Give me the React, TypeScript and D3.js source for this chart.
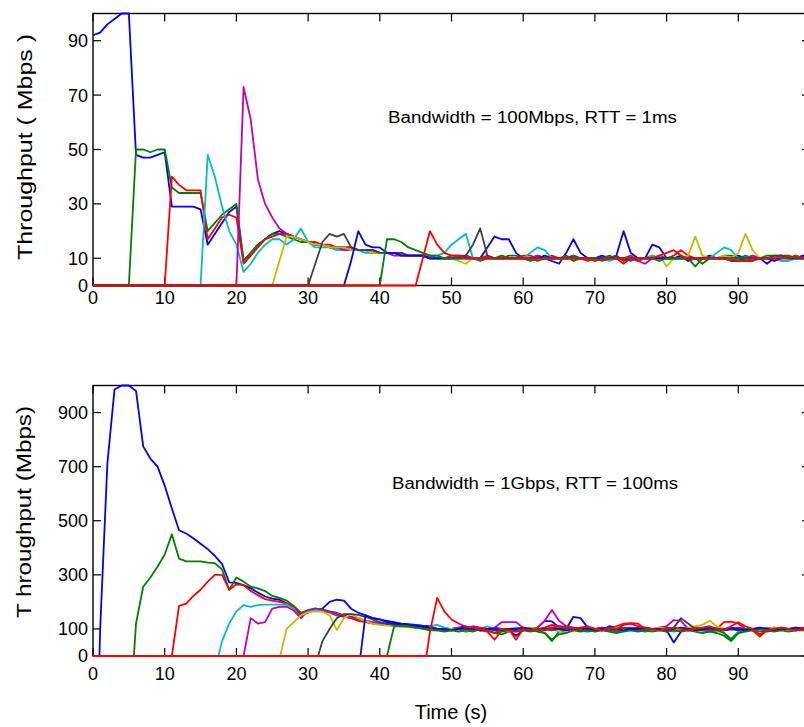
import React from "react";
import * as d3 from "d3";

// ---------- DATA ----------
const colors = ["#0000ff", "#008000", "#ff0000", "#00bfbf", "#bf00bf", "#bfbf00", "#404040", "#0000ff", "#008000", "#ff0000"];

const xTicks = [0, 10, 20, 30, 40, 50, 60, 70, 80, 90, 100];
const xTickLabels = ["0", "10", "20", "30", "40", "50", "60", "70", "80", "90"];
const topYTicks = [0, 10, 30, 50, 70, 90];
const botYTicks = [0, 100, 300, 500, 700, 900];

// flow start times (s); -1 = no idle period
const topStarts = [-1, 5, 10, 15, 20, 25, 30, 35, 40, 45];
const botStarts = [0.9, 5.7, 11, 17.5, 21, 26.1, 31.4, 37.3, 41, 46.5];

// values (Mbps) at 1 s steps from the first whole second after the start, up to 100 s
const topBlue1 = [92,93,96,98,100,100,48,47,47,48, 49,29,29,29,29,28,15,19,23,27, 29,9,12,15,17,19,20,19,18,17, 16,15,15,14,14,14,14,13,13,13, 12,12,12,11,11,11,11,10,10,10, 10,10,11,10,10,14,18,17,17,12, 10,10,11,10,9,8,12,17,12,10, 10,11,10,11,20,12,10,10,15,14, 10,10,11,9,10,10,11,10,10,10, 11,10,10,10,8,10,11,10,10,11, 10];
const topGreen1 = [50,50,49,50, 50,36,34,34,34,34,20,23,26,28, 30,9,12,15,17,19,19,18,17,16, 16,15,15,14,14,14,13,13,13,12, 12,12,12,11,11,11,11,11,10,10, 10,10,10,10,9,10,10,10,11,11, 10,9,10,10,10,10,11,9,10,10, 10,10,11,10,10,9,10,10,11,10, 10,10,10,10,7,10,10,10,11,11, 10,11,10,10,11,11,11,10,11,10, 10];
const topRed1 = [40,37,35,35,35,17,21,25,26, 25,8,11,14,17,18,19,19,18,17, 16,16,15,15,14,14,14,13,13,13, 12,12,12,12,11,11,11,11,10,10, 10,11,10,10,10,11,10,10,10,10, 11,11,10,10,11,10,10,10,10,9, 10,10,10,10,8,10,9,10,10,11, 10,11,13,11,10,10,10,10,10,10, 10,9,9,10,10,10,11,11,10,10, 11];
const topCyan = [48,40,29,20, 15,5,8,12,15,17,17,15,17,21, 16,14,14,14,13,13,13,13,12,12, 12,12,12,11,11,11,11,11,11,12, 15,17,19,10,10,10,10,11,10,10, 10,12,14,13,10,10,10,11,10,10, 9,10,9,10,10,10,10,10,11,10, 10,10,10,10,10,10,10,12,14,13, 10,10,11,10,10,10,9,9,10,10, 10];
const topMagenta = [73,61,39,30,25,21,19,18,17, 16,15,15,14,14,13,13,13,13,12, 12,12,11,11,11,11,11,10,10,10, 11,11,11,10,10,10,10,10,10,10, 10,10,11,10,10,10,10,10,10,10, 10,10,10,10,10,11,9,8,10,10, 10,10,10,10,10,10,10,10,10,10, 10,10,11,10,10,10,11,10,10,10, 10];
const topYellow = [9,18,18,17, 16,15,15,14,14,14,13,13,13,12, 12,12,12,11,11,11,11,10,10,10, 10,9,8,10,10,10,10,10,10,10, 10,10,10,10,10,10,10,10,10,10, 10,10,10,10,10,10,10,10,10,11, 7,10,10,11,18,11,10,10,11,10, 12,19,13,10,10,10,10,10,10,10, 10];
const topBlack = [8,16,19,18,19,14,13,13,13, 12,12,12,12,11,11,11,10,10,10, 10,10,11,15,21,11,10,10,10,10, 10,10,10,10,10,10,10,11,10,10, 10,10,10,11,9,10,10,10,10,10, 10,10,10,10,10,10,10,10,10,9, 9,10,10,10,10,11,11,10,10,10, 10];
const topBlue2 = [9,20,15,14, 14,12,12,11,11,11,11,10,10,10, 10,10,10,10,10,10,10,10,10,10, 10,10,10,11,10,10,10,10,10,10, 10,10,10,10,10,10,10,10,10,10, 10,10,10,10,10,10,10,10,10,10, 10,10,10,10,10,9,10,10,10,10, 10];
const topGreen2 = [17,17,16,14,13,12,11,11,10, 10,10,10,10,10,10,10,11,10,10, 10,10,9,10,10,10,10,10,10,10, 10,9,10,10,10,10,10,10,10,9, 10,10,10,10,10,8,10,10,10,10, 10,10,10,10,10,10,10,11,10,10, 11];
const topRed2 = [10,20,15,12, 11,11,10,10,10,10,10,10,10,10, 10,10,10,10,10,10,10,10,10,10, 9,10,10,10,10,10,10,10,10,11, 12,13,11,10,10,10,10,10,10,10, 9,9,10,10,10,10,10,10,11,10, 10];

const botBlue1 = [100,710,985,1000,1000,980,775,730,700, 630,545,465,453,435,415,395,370,340,272, 270,262,250,235,220,212,208,195,180,150, 160,170,175,200,208,205,175,160,150,140, 135,130,125,120,118,115,112,110,100,95, 100,105,110,100,95,100,105,100,95,75, 95,100,105,130,128,105,100,145,140,105, 100,95,110,105,100,100,105,95,100,100, 95,50,90,100,105,100,95,100,100,105, 100,95,100,95,100,105,100,100,95,100, 100];
const botGreen1 = [120,256,290,330, 375,450,360,350,350,350,345,343,320,245, 290,275,256,250,240,222,215,205,185,160, 170,175,172,165,160,150,140,135,130,125, 120,118,115,112,110,108,105,100,95,100, 95,100,90,95,100,95,85,80,90,95, 95,100,90,85,55,90,95,100,95,90, 95,100,95,90,95,100,95,90,95,100, 90,95,100,95,100,95,90,85,75,55, 85,95,100,95,90,95,100,95,95,100, 95];
const botRed1 = [185,194,222,245,275,300,300,245, 265,262,240,225,210,205,200,194,180,155, 165,170,168,160,150,145,140,130,125,120, 118,115,112,110,108,105,103,100,95,100, 100,95,100,105,95,90,60,95,100,60, 100,95,100,105,115,110,108,105,100,95, 100,105,100,110,120,121,120,100,95,100, 105,100,95,100,105,100,95,100,125,127, 120,100,95,72,95,100,105,100,100,95, 100];
const botCyan = [55,120, 165,188,182,188,190,190,190,190,175,140, 165,170,168,162,155,150,145,140,130,125, 120,118,115,112,110,108,105,110,115,105, 100,95,100,105,100,110,100,95,100,105, 100,95,100,95,100,105,100,95,100,105, 100,95,100,95,100,105,100,100,95,100, 95,90,100,105,100,95,100,105,85,65, 90,100,95,100,105,100,95,100,105,100, 100];
const botMagenta = [140,120,125,175,182,182,168,140, 170,176,170,164,155,150,145,140,130,125, 120,118,115,115,115,113,110,105,100,95, 100,105,100,110,105,100,105,125,125,125, 105,100,105,130,170,130,110,105,100,105, 100,105,100,95,100,105,100,95,100,105, 110,133,130,100,95,100,105,100,95,100, 105,100,95,100,100,105,100,95,100,105, 100];
const botYellow = [100,125,150, 162,164,164,150,96,140,155,140,130,120, 115,112,110,108,106,104,102,100,100,95, 100,95,90,100,95,100,95,100,90,95, 100,105,100,95,100,90,85,95,100,95, 100,95,100,105,100,95,100,95,100,105, 100,95,100,105,110,115,130,110,100,95, 100,95,100,95,100,105,100,95,100,100, 100];
const botBlack = [55,100,140,155,155,152,145,135, 125,120,115,112,110,108,105,102,100,95, 95,100,95,100,95,100,95,100,100,95, 100,95,100,100,95,100,105,100,95,100, 95,100,95,100,105,100,95,100,100,95, 100,105,140,120,100,95,100,95,100,100, 95,100,95,100,100,95,100,100,95,100, 100];
const botBlue2 = [150,140, 135,125,120,118,115,112,110,105,100,100, 95,100,105,100,95,100,100,95,100,100, 105,100,95,100,105,100,95,100,105,100, 95,100,105,100,95,100,100,105,100,100, 95,100,105,100,95,100,105,100,95,100, 100,95,100,105,100,95,100,100,105,100, 95];
const botGreen2 = [110,112,110,105,100,95,95,90, 95,90,95,90,100,95,85,90,95,90, 95,90,95,85,60,80,85,95,90,95, 90,95,90,85,90,95,90,95,90,95, 90,95,90,95,90,85,90,95,85,60, 85,90,95,90,95,90,95,90,95,95, 95];
const botRed2 = [90,215,165, 135,120,108,105,100,95,85,100,95,90, 100,95,100,95,105,110,105,100,105,110, 100,95,105,100,115,120,110,105,100,95, 100,105,100,95,100,105,110,100,95,110, 125,110,100,80,95,100,105,100,95,100, 100];

const topFlows = [topBlue1, topGreen1, topRed1, topCyan, topMagenta, topYellow, topBlack, topBlue2, topGreen2, topRed2];
const botFlows = [botBlue1, botGreen1, botRed1, botCyan, botMagenta, botYellow, botBlack, botBlue2, botGreen2, botRed2];

// ---------- LAYOUT ----------
const W = 804, H = 727;
const X0 = 93, X1 = 810;
const FONT = "'Liberation Sans', Arial, Helvetica, sans-serif";

function flowPoints(start: number, vals: number[]): [number, number][] {
  const pts: [number, number][] = [];
  let first = 0;
  if (start >= 0) {
    pts.push([0, 0], [start, 0]);
    first = Math.floor(start) + 1;
  }
  vals.forEach((v, i) => pts.push([first + i, v]));
  return pts;
}

type PanelProps = {
  id: string;
  yTop: number; yBottom: number; yMax: number;
  yTicks: number[]; flows: number[][]; starts: number[];
  ylabel: string; ylabelCenter: number; ylabelLen: number; ylabelX: number;
  note: string; noteX: number; noteW: number; noteY: number;
  xLabelY: number;
};

function Panel(p: PanelProps) {
  const x = d3.scaleLinear().domain([0, 100]).range([X0, X1]);
  const y = d3.scaleLinear().domain([0, p.yMax]).range([p.yBottom, p.yTop]);
  const line = d3.line<[number, number]>().x(d => x(d[0])).y(d => y(d[1]));
  const tl = 8;
  return (
    <g>
      <defs>
        <clipPath id={p.id}>
          <rect x={X0} y={p.yTop - 1.5} width={X1 - X0} height={p.yBottom - p.yTop + 3} />
        </clipPath>
      </defs>
      <rect x={X0} y={p.yTop} width={X1 - X0} height={p.yBottom - p.yTop} fill="none" stroke="#000" strokeWidth={1.4} />
      {xTicks.map(t => (
        <g key={t}>
          <line x1={x(t)} x2={x(t)} y1={p.yTop} y2={p.yTop + tl} stroke="#000" strokeWidth={1.2} />
          <line x1={x(t)} x2={x(t)} y1={p.yBottom} y2={p.yBottom - tl} stroke="#000" strokeWidth={1.2} />
        </g>
      ))}
      {p.yTicks.map(v => (
        <g key={v}>
          <line x1={X0} x2={X0 + tl} y1={y(v)} y2={y(v)} stroke="#000" strokeWidth={1.2} />
          <line x1={X1} x2={X1 - tl} y1={y(v)} y2={y(v)} stroke="#000" strokeWidth={1.2} />
          <text x={88} y={y(v)} dy="0.36em" textAnchor="end" fontSize={18} fontFamily={FONT}>{v}</text>
        </g>
      ))}
      <g clipPath={`url(#${p.id})`}>
        {p.flows.map((vals, i) => (
          <path key={i} d={line(flowPoints(p.starts[i], vals)) || ""} fill="none" stroke={colors[i]} strokeWidth={1.8} strokeLinejoin="round" />
        ))}
      </g>
      {xTickLabels.map((s, i) => (
        <text key={s} x={x(xTicks[i])} y={p.xLabelY} dy="0.36em" textAnchor="middle" fontSize={18} fontFamily={FONT}>{s}</text>
      ))}
      <text transform={`translate(${p.ylabelX},${p.ylabelCenter}) rotate(-90)`} textAnchor="middle" dy="0.36em" fontSize={20} fontFamily={FONT}
        textLength={p.ylabelLen} lengthAdjust="spacingAndGlyphs">{p.ylabel}</text>
      <text x={p.noteX} y={p.noteY} dy="0.36em" fontSize={16} fontFamily={FONT} textLength={p.noteW} lengthAdjust="spacingAndGlyphs">{p.note}</text>
    </g>
  );
}

export default function App() {
  return (
    <svg width={W} height={H} style={{ position: "absolute", left: 0, top: 0, background: "#fff" }}>
      <rect x={0} y={0} width={W} height={H} fill="#fff" />
      <Panel id="clipTop" yTop={13.5} yBottom={285.5} yMax={100} yTicks={topYTicks} flows={topFlows} starts={topStarts}
        ylabel="Throughput ( Mbps )" ylabelCenter={147} ylabelLen={226} ylabelX={25}
        note="Bandwidth = 100Mbps, RTT = 1ms" noteX={388} noteW={289} noteY={117} xLabelY={298} />
      <Panel id="clipBot" yTop={385.5} yBottom={656} yMax={1000} yTicks={botYTicks} flows={botFlows} starts={botStarts}
        ylabel="T hroughput (Mbps)" ylabelCenter={512} ylabelLen={212} ylabelX={24}
        note="Bandwidth = 1Gbps, RTT = 100ms" noteX={392} noteW={286} noteY={483} xLabelY={674} />
      <text x={451} y={712} dy="0.36em" textAnchor="middle" fontSize={20} fontFamily={FONT}>Time (s)</text>
    </svg>
  );
}
